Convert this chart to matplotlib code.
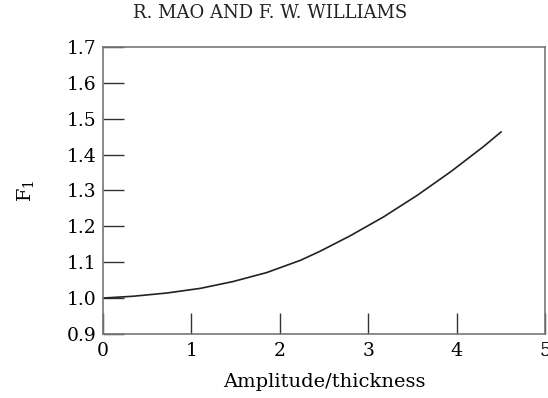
import numpy as np
import matplotlib
matplotlib.use("Agg")
import matplotlib.pyplot as plt

# values
amp = [0.0, 0.34, 0.72, 1.10, 1.47, 1.85, 2.23, 2.45, 2.79, 3.17, 3.55, 3.93, 4.30, 4.50]
f1 = [1.000, 1.005, 1.014, 1.027, 1.046, 1.071, 1.105, 1.130, 1.173, 1.226, 1.286, 1.352, 1.422, 1.463]
xticks = [0, 1, 2, 3, 4, 5]
yticks = [0.9, 1.0, 1.1, 1.2, 1.3, 1.4, 1.5, 1.6, 1.7]

plt.rcParams['font.family'] = ['DejaVu Serif']
plt.rcParams['mathtext.fontset'] = 'dejavuserif'

fig = plt.figure(figsize=(5.48, 3.98), dpi=100)
ax = fig.add_axes([0.188, 0.161, 0.807, 0.721])

ax.plot(amp, f1, color='#222222', lw=1.2)

ax.set_xlim(0, 5)
ax.set_ylim(0.9, 1.7)
ax.set_xticks(xticks)
ax.set_yticks(yticks)
ax.set_xticklabels([str(t) for t in xticks])
ax.set_yticklabels(["%.1f" % t for t in yticks])
ax.tick_params(direction='in', length=15, width=1, color='#333333',
               labelsize=13.5)
ax.tick_params(axis='x', pad=6)
ax.tick_params(axis='y', pad=5)
for s in ax.spines.values():
    s.set_color('#777777')
    s.set_linewidth(1.2)

ax.set_xlabel("Amplitude/thickness", fontsize=14, labelpad=9)
ax.set_ylabel(r"F$_1$", fontsize=14, labelpad=22)

fig.text(0.493, 0.968, "R. MAO AND F. W. WILLIAMS", ha='center', va='center',
         fontsize=13, color='#222222')

plt.savefig("out.png", dpi=100)
